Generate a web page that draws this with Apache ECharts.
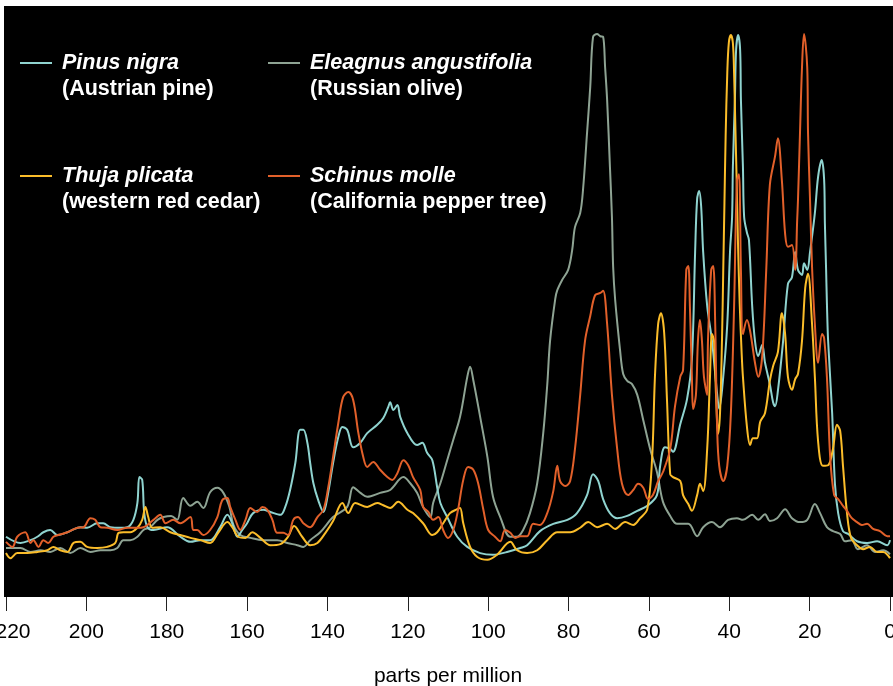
<!DOCTYPE html>
<html>
<head>
<meta charset="utf-8">
<script src="https://cdn.jsdelivr.net/npm/echarts@6/dist/echarts.min.js"></script>
<style>
html,body{margin:0;padding:0;background:#fff;}
#chart{width:893px;height:686px;}
</style>
</head>
<body>
<div id="chart"></div>
<script>
// ---- data: [ppm, relative intensity] ----
const speciesNames = ['Pinus nigra', 'Eleagnus angustifolia', 'Thuja plicata', 'Schinus molle'];
const commonNames = ['(Austrian pine)', '(Russian olive)', '(western red cedar)', '(California pepper tree)'];
const xTicks = [220, 200, 180, 160, 140, 120, 100, 80, 60, 40, 20, 0];

const pinusNigra = [
[220,10.7],[216.4,9.6],[213.9,10.1],[212.2,10.7],[210.7,11.5],[209,11.9],[207.2,11],[204.7,11.5],[201.5,12.4],[199.8,12.3],[197.3,13.1],[195.8,13.1],[194,12.4],[191.5,12.3],[189.8,12.4],[188.3,13.7],[187.3,16.7],[186.8,21.3],[186.1,20.8],[185.6,14.9],[184.8,12.4],[183.3,11.9],[179.9,12.4],[176.6,10.7],[174.1,9.8],[171.6,10.1],[169.2,10.1],[166.7,12.4],[164.9,14.6],[163.7,13.1],[162.4,10.7],[161.2,11.9],[160,13.1],[158.5,14.9],[156,15.5],[154.2,15.1],[151.7,14.6],[150.5,16],[149.3,19],[148,23.8],[146.8,29.7],[146,29.7],[145,27.4],[144.3,23.8],[143.5,20.2],[142.3,17.2],[141,15.1],[140,17.8],[138.6,23.8],[137.3,28.4],[136.3,30.2],[135.1,29.7],[133.6,26.6],[131.8,27.4],[130.1,29.1],[127.6,30.6],[126.1,31.8],[124.9,33.7],[124.4,34.6],[123.6,33.2],[122.6,34.1],[121.9,32],[120.1,29.1],[117.7,27],[116.4,27.4],[115.2,25.6],[113.9,24.3],[112.7,19.5],[111.9,16.7],[110.2,14.2],[107.7,10.7],[105.2,8.9],[102,7.8],[98.8,7.5],[95.3,8],[92,8.7],[90.3,9.2],[87.1,11.7],[83.8,13],[80.3,13.7],[77.9,14.9],[75.4,18.1],[73.9,21.8],[72.6,20.6],[71.4,17.4],[69.7,14.9],[67.9,14],[65.4,14.4],[62.9,15.3],[60.4,16.2],[58,18.1],[57.2,23.3],[56,26.6],[54.7,26.3],[54,25.8],[52.2,30.7],[50.5,35.2],[49.3,42.3],[48.5,61.3],[48,70.7],[47.5,72.1],[47,69.4],[46.5,61.3],[45.5,51.7],[44.3,45.5],[43,35.9],[42.5,33.4],[41.5,39.1],[40.5,48.5],[39.8,61.6],[39.3,67.5],[39.1,76.4],[38.6,88.3],[38.3,97.2],[37.8,99.8],[37.3,97.2],[37.1,88.3],[36.6,76.4],[36.3,67.5],[35.6,64.7],[35.1,63.4],[34.3,51.7],[33.6,45.5],[32.8,42.8],[31.8,44.8],[31.1,41.6],[29.9,37.8],[29.1,34.6],[28.6,33.9],[27.9,36.6],[26.6,45.5],[25.4,55.6],[24.4,56.8],[23.6,61.3],[22.9,58.1],[21.9,57.2],[21.4,59.3],[20.6,58.1],[19.9,61.3],[18.7,68.2],[17.9,74.6],[17,77.6],[16.4,74.2],[16.2,66.3],[15.9,58.1],[15.7,52.2],[15.4,45.5],[14.4,32.7],[13.7,20.1],[12.9,14.9],[11.7,11.7],[10.4,11.2],[8.2,9.9],[5.7,9.6],[3.2,9.9],[0.7,9.2],[0,10.1]
];

const eleagnusAngustifolia = [
[220,8.7],[216.4,8.7],[213.9,8],[211.4,8.3],[209,8],[206.5,8.7],[204,7.8],[201.5,8.7],[199,8],[196.5,8.3],[194,8.3],[192.3,8.7],[190.8,10.1],[189.1,10.1],[187.3,10.7],[185.8,11.9],[184.1,12.4],[182.3,13.7],[180.8,14.2],[178.9,14.4],[177.4,13.7],[175.9,17.6],[174.1,16.2],[172.4,16.9],[170.9,15.8],[169.2,18.6],[167.4,19.4],[165.9,18.5],[164.4,16],[163.4,12.8],[161.7,11],[159.2,10.5],[156,10.1],[152.5,10.1],[150,9.6],[147.5,9.2],[146,8.9],[144.3,10.1],[141.8,11.5],[138.6,14.2],[135.1,16],[133.6,19.5],[131.8,18.5],[130.1,17.8],[126.9,18.5],[124.4,19],[121.1,21.3],[119.4,20.2],[117.7,18.5],[116.2,16],[114.4,14.2],[113.7,16.7],[111.9,20.2],[110.2,24.3],[108.7,27.9],[107,32],[105.2,39.1],[104.5,40.9],[103.7,38.5],[102,32],[100.2,24.9],[98.8,17.8],[97,14.2],[94.5,10.7],[92.8,10.7],[91.3,11.9],[89.6,14.9],[87.8,20.2],[86.3,29.1],[85.3,37.7],[84.6,45.5],[83.3,53],[82.8,54.5],[81.6,56.3],[80.1,58.1],[79.1,61.6],[78.4,65.7],[77.1,68.2],[76.4,72.3],[75.4,82.4],[74.6,90.6],[73.9,99.5],[72.9,100],[72.1,99.6],[71.4,99.5],[70.9,94.1],[70.4,88.3],[69.7,76.4],[69.2,67.5],[68.9,58.6],[68.4,52.8],[67.2,44],[66.4,39.6],[65.4,38.4],[64.2,37.8],[62.9,35.9],[61.4,31.4],[59.7,26.3],[58,22.2],[56.5,16.9],[54.7,14.4],[53,13],[50.2,13],[48,10.8],[46.5,12.4],[44.3,13.3],[42.3,12.4],[40.3,13.7],[38.1,14],[36.6,13.7],[34.3,14.6],[32.8,13.7],[31.1,14.7],[29.9,13.5],[28.1,14],[26.1,15.6],[24.4,14],[22.4,13.3],[20.6,13.7],[18.7,16.5],[17.4,14.9],[15.7,12.4],[14.2,11.7],[12.4,11.2],[11.2,9.9],[9.5,10.1],[8,8.5],[5.7,9.2],[3.7,8],[1.7,8.3],[0,7.6]
];

const thujaPlicata = [
[220,7.8],[218.9,6.9],[217.2,7.8],[214.7,7.8],[212.2,8],[209.7,8.3],[208.2,8.9],[206.5,8.3],[204.7,8],[203.2,9.6],[201.5,9.8],[199.8,8.9],[197.3,8.7],[194.8,8.9],[192.8,9.6],[192,11.4],[190.8,11.5],[189.1,11.5],[187.3,12.3],[186.1,13.7],[185.3,16],[184.6,14.2],[183.6,12.3],[181.6,12.4],[179.1,11.5],[176.6,11],[174.1,10.5],[171.6,10.1],[169.2,9.6],[167.2,11.4],[164.9,13.3],[163.7,12.4],[162.2,10.7],[160.4,10.5],[158.7,11.5],[156.7,10.5],[154.2,9.2],[151.7,9.4],[149.8,10.7],[148.3,12.6],[146.3,10.7],[144.3,9.2],[142.5,9.6],[140.5,11.4],[138.6,13.5],[136.3,16.7],[134.8,14.9],[133.1,16.7],[130.1,16],[127.6,16.7],[126.1,16.3],[124.4,15.8],[122.4,16.9],[120.1,15.5],[118.7,14.9],[116.2,13.1],[113.9,11],[112.7,11.5],[111.2,13.1],[109.5,14.9],[107.7,15.6],[107,15.8],[106.2,13.1],[104.5,8.9],[102.7,7.1],[100.2,6.6],[97.8,7.5],[94.5,9.8],[92.8,8.3],[90.3,7.8],[87.8,8.3],[85.3,10.1],[82.8,11.5],[79.6,11.5],[77.1,12.3],[75.1,13.3],[72.9,12.4],[70.4,13],[68.4,12.1],[65.9,13.3],[63.9,12.8],[62.2,14],[60.4,15.6],[59.2,24.7],[58.5,39.1],[57.7,48.5],[57,50.4],[56.2,46.9],[55.5,35],[54.7,21.8],[54,21.3],[52.2,20.6],[51.5,18.1],[50.2,16.5],[49.3,15.3],[48,18.1],[47.3,20.1],[46.5,18.8],[45.5,26.3],[44.8,39.1],[44.3,46.7],[43.8,45.5],[43.3,35.9],[42.8,29],[42.3,32.7],[41.8,46],[41.5,58],[41.2,70],[40.9,82],[40.5,93],[40.1,98.5],[39.6,99.8],[39.1,98.4],[38.8,93],[38.5,84],[38.1,72],[37.8,62],[37.4,52],[36.9,43],[36.6,39.1],[35.6,30.2],[34.8,27],[34.1,28.2],[33.1,28.2],[32.3,31.1],[31.1,32.7],[29.9,38.4],[29.1,41],[27.9,43.5],[26.9,50.4],[26.1,46.7],[25.4,39.1],[24.4,36.8],[23.6,38.7],[22.9,39.6],[21.9,45.5],[21.1,54.9],[20.4,57.4],[19.4,48.5],[18.7,39.1],[17.9,27.7],[16.7,23.3],[15.4,23.4],[14.2,26.3],[13.2,30.6],[12.4,29.5],[11.7,23.3],[10.7,14.9],[9.7,10.5],[8.2,9.2],[6.7,8.5],[5,8.9],[3.2,8],[1.7,8],[0,6.9]
];

const schinusMolle = [
[220,9.8],[218.4,8.9],[217.2,10.7],[215.2,11.5],[213.9,9.6],[213.2,10.1],[211.9,8.9],[210.7,10.1],[209.5,9.6],[208.2,10.7],[207,11],[204.7,11.5],[202.2,12.3],[200.7,12.4],[199,14],[197.8,13.7],[196.5,12.4],[194.8,12.3],[192.3,11.9],[189.8,12.3],[187.3,12.3],[185.8,12.4],[183.3,13.7],[181.6,14.6],[180.3,13.1],[178.4,13.7],[176.6,13.1],[174.1,14.2],[173.4,11.9],[172.4,11.9],[170.9,11],[169.2,11.9],[167.4,14.2],[166.2,17.2],[164.9,17.6],[164.2,16],[162.9,13.7],[161.7,11.9],[160.4,13.7],[159.2,15.8],[157.5,15.1],[156.2,16],[155,15.5],[153.7,13.7],[152.5,11.4],[151,11.4],[149.8,11],[148.5,13.7],[147.3,14.2],[146,13.1],[144.3,12.4],[142.5,14.2],[141,15.5],[139.8,19.5],[138.6,24.9],[137.3,30.9],[136.1,35.5],[134.8,36.4],[133.6,35],[132.3,29.1],[131.1,24.9],[130.1,23.1],[128.6,24],[126.9,22.6],[125.1,21.3],[123.9,20.8],[122.6,22],[121.1,24.3],[119.9,23.4],[118.7,21.3],[116.9,19],[116.2,16],[114.9,15.1],[113.7,13.7],[112.4,14.2],[111.2,11.9],[110,10.5],[108.7,11.9],[107.5,15.5],[106.2,20.8],[105,23.1],[103.7,22.6],[102.5,20.2],[101.2,15.5],[100,11.9],[98.3,10.7],[97,9.9],[95.8,11.9],[94.5,11.4],[93.3,10.5],[92,10.8],[90.3,10.8],[88.8,13],[87.1,12.8],[85.3,14.9],[83.8,18.8],[82.8,23.3],[82.1,20.6],[80.8,19.7],[79.6,20.6],[78.4,26.3],[77.1,35.9],[75.9,45.5],[74.6,49.9],[73.4,53.6],[72.1,54],[71.4,54.4],[70.4,48.5],[69.2,35.9],[67.9,26.3],[66.7,20.1],[65.2,18.1],[63.9,19],[62.7,20.1],[61.4,19.4],[60.2,17.4],[59,18.1],[57.7,20.6],[56.5,22.2],[54.7,26.3],[53.5,33.9],[52.2,39.1],[51.5,40.3],[50.7,58.1],[50.2,58.8],[49.8,51.7],[49.3,39.1],[49,33.4],[48.3,35.9],[47.8,45.5],[47.3,49.2],[46.8,45.5],[46.3,39.1],[45.5,35.9],[45.3,45.5],[44.5,58.1],[44,58.8],[43.5,48.5],[43,29.5],[42.5,23.3],[41.5,20.6],[40.5,23.3],[39.6,32.7],[38.8,51.7],[38.1,73.9],[37.6,75.1],[37.1,58.1],[36.6,46.7],[35.6,49.2],[34.8,47.2],[33.6,41.6],[32.8,39.1],[31.8,42.8],[30.8,58.1],[29.9,73.2],[28.6,78.3],[27.9,81.5],[26.9,73.9],[26.1,64.5],[25.4,62.2],[24.4,62.5],[23.6,58.1],[23.1,67],[22.9,70.5],[22.4,82.4],[21.9,94.1],[21.4,100],[20.6,94.1],[20.4,82.4],[19.9,70.5],[19.4,58.6],[18.7,48.5],[17.9,41.6],[16.9,46.7],[16.4,46],[15.7,39.1],[14.9,25],[13.9,18.1],[12.9,17.4],[11.7,16.2],[10.7,15.3],[9.5,14],[8.2,13.3],[7,12.8],[5.7,13],[4.2,12.1],[2.5,11.7],[0.7,10.8],[0,10.8]
];

const seriesData = [pinusNigra, eleagnusAngustifolia, thujaPlicata, schinusMolle];
const seriesColors = ['#8fd3cf', '#8ea393', '#fbbd2a', '#e2602a'];
const drawOrder = [1, 0, 2, 3];
const legendPos = [[20, 26], [268, 26], [20, 139], [268, 139]];

const FONT = '"Liberation Sans", Arial, Helvetica, sans-serif';
const LH = 26;
const FS = 21.5;

const chart = echarts.init(document.getElementById('chart'), null, {renderer: 'canvas'});

const legends = speciesNames.map((name, i) => ({
  data: [name],
  left: legendPos[i][0],
  top: legendPos[i][1],
  padding: 0,
  icon: 'rect',
  itemWidth: 32,
  itemHeight: 2,
  selectedMode: false,
  formatter: n => '{s| }\n{a|' + n + '}\n{b|' + commonNames[speciesNames.indexOf(n)] + '}',
  textStyle: {
    color: '#fff',
    fontFamily: FONT,
    fontSize: FS,
    fontWeight: 'bold',
    padding: [0, 0, 0, 5],
    rich: {
      s: {fontSize: FS, lineHeight: LH, fontFamily: FONT},
      a: {fontSize: FS, lineHeight: LH, fontStyle: 'italic', fontWeight: 'bold', color: '#fff', fontFamily: FONT},
      b: {fontSize: FS, lineHeight: LH, fontWeight: 'bold', color: '#fff', fontFamily: FONT}
    }
  }
}));

const series = drawOrder.map(i => ({
  name: speciesNames[i],
  type: 'line',
  data: seriesData[i],
  symbol: 'none',
  showSymbol: false,
  smooth: 0.35,
  color: seriesColors[i],
  lineStyle: {color: seriesColors[i], width: 2},
  itemStyle: {color: seriesColors[i]},
  emphasis: {disabled: true},
  z: 2 + drawOrder.indexOf(i)
}));

chart.setOption({
  animation: false,
  backgroundColor: '#fff',
  graphic: [{
    type: 'rect',
    shape: {x: 4, y: 6, width: 889, height: 591},
    style: {fill: '#000'},
    z: -10,
    silent: true
  }],
  legend: legends,
  grid: {left: 6, right: 3, top: 5, bottom: 89, containLabel: false, outerBoundsMode: 'none'},
  xAxis: {
    type: 'value',
    inverse: true,
    min: 0,
    max: 220,
    interval: 20,
    name: 'parts per million',
    nameLocation: 'middle',
    nameGap: 69,
    nameTextStyle: {color: '#000', fontSize: 21, fontFamily: FONT},
    axisLine: {show: false},
    axisTick: {show: true, length: 14, lineStyle: {color: '#222', width: 1}},
    axisLabel: {
      color: '#000', fontSize: 21, fontFamily: FONT, margin: 25,
      formatter: v => !xTicks.includes(v) ? '' : (v === xTicks[0] ? '{edge|' + v + '}' : String(v)),
      rich: {
        edge: {color: '#000', fontSize: 21, fontFamily: FONT, padding: [0, 0, 0, 14]}
      }
    },
    splitLine: {show: false}
  },
  yAxis: {
    type: 'value',
    min: 0,
    max: 105.15,
    show: false,
    splitLine: {show: false}
  },
  series: series
});
</script>
</body>
</html>
